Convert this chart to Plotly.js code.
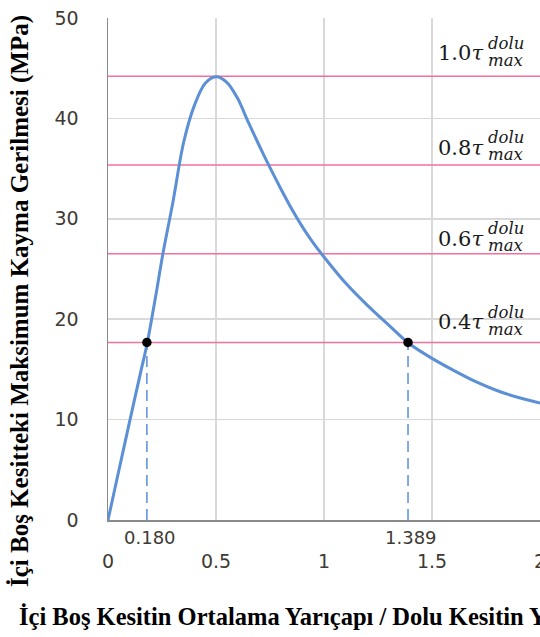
<!DOCTYPE html>
<html>
<head>
<meta charset="utf-8">
<script src="https://cdn.plot.ly/plotly-3.0.1.min.js"></script>
<style>
html,body{margin:0;padding:0;overflow:hidden;background:#fff;}
#chart{width:540px;height:637px;}
</style>
</head>
<body>
<div id="chart"></div>
<script>
// ---- data ----
const ratio = [0, 0.05, 0.1, 0.15, 0.182, 0.22, 0.254, 0.3, 0.35, 0.4, 0.45, 0.5, 0.55, 0.6, 0.65, 0.7, 0.75, 0.8, 0.85, 0.9, 0.95, 1.0, 1.1, 1.2, 1.3, 1.389, 1.5, 1.6, 1.7, 1.8, 1.9, 2.0];
const stress = [0, 4.9, 9.8, 14.6, 17.66, 22.2, 26.5, 31.6, 37.6, 41.3, 43.5, 44.15, 43.6, 42.0, 39.6, 37.3, 35.1, 33.0, 31.0, 29.2, 27.6, 26.2, 23.6, 21.4, 19.4, 17.66, 16.1, 14.9, 13.8, 12.9, 12.2, 11.66];
const tauMax = 44.2;
const levelFactors = [1.0, 0.8, 0.6, 0.4];
const levelLabels = ["1.0", "0.8", "0.6", "0.4"];
const markedX = [0.180, 1.389];
const markedLabels = ["0.180", "1.389"];
const xTicks = [0, 0.5, 1, 1.5, 2];
const xTickText = ["0", "0.5", "1", "1.5", "2"];
const yTicks = [0, 10, 20, 30, 40, 50];
const yTickText = ["0", "10", "20", "30", "40", "50"];

// ---- layout-only settings ----
const labelLift = [23, 17, 15, 20]; // px above each level line
const blue = "#5b8fd6";
const pink = "#f0709e";
const tickColor = "#3f3a33";

const traces = [];
levelFactors.forEach(f => {
  traces.push({x: [0, 2], y: [f * tauMax, f * tauMax], mode: "lines",
    line: {color: pink, width: 1.6}, hoverinfo: "skip", showlegend: false});
});
traces.push({x: ratio, y: stress, mode: "lines",
  line: {color: blue, width: 3, shape: "spline", smoothing: 0.9}, showlegend: false});
const dotY = levelFactors[3] * tauMax;
markedX.forEach(xv => {
  traces.push({x: [xv, xv], y: [0, dotY], mode: "lines",
    line: {color: blue, width: 1.5, dash: "11px,6px"}, showlegend: false});
});
traces.push({x: markedX, y: markedX.map(() => dotY), mode: "markers",
  marker: {color: "#000", size: 9.5}, cliponaxis: false, showlegend: false});

const annotations = [];
levelFactors.forEach((f, i) => {
  const yv = f * tauMax;
  annotations.push({xref: "x", yref: "y", x: 1.745, y: yv, xanchor: "right", yanchor: "middle",
    yshift: labelLift[i], showarrow: false, text: levelLabels[i] + "<i>τ</i>",
    font: {family: "DejaVu Serif", size: 21, color: "#1a1a1a"}});
  annotations.push({xref: "x", yref: "y", x: 1.752, y: yv, xanchor: "left", yanchor: "middle",
    yshift: labelLift[i] + 10, showarrow: false, text: "<i>dolu</i>",
    font: {family: "DejaVu Serif", size: 16.5, color: "#1a1a1a"}});
  annotations.push({xref: "x", yref: "y", x: 1.748, y: yv, xanchor: "left", yanchor: "middle",
    yshift: labelLift[i] - 7, showarrow: false, text: "<i>max</i>",
    font: {family: "DejaVu Serif", size: 16.5, color: "#1a1a1a"}});
});
markedX.forEach((xv, i) => {
  annotations.push({xref: "x", yref: "y", x: xv, y: 0, xanchor: "center", yanchor: "middle",
    yshift: -17, xshift: 3, showarrow: false, text: markedLabels[i],
    font: {family: "DejaVu Sans", size: 18, color: tickColor}});
});
annotations.push({xref: "paper", yref: "paper", x: -0.205, y: 0.437, xanchor: "center", yanchor: "middle",
  textangle: -90, showarrow: false, text: "<b>İçi Boş Kesitteki Maksimum Kayma Gerilmesi (MPa)</b>",
  font: {family: "Liberation Serif", size: 25, color: "#000"}});
annotations.push({xref: "paper", yref: "paper", x: -0.211, y: -0.193, xanchor: "left", yanchor: "middle",
  showarrow: false, text: "<b>İçi Boş Kesitin Ortalama Yarıçapı / Dolu Kesitin Yarıçapı</b>",
  font: {family: "Liberation Serif", size: 24.5, color: "#000"}});

const layout = {
  width: 540, height: 637,
  margin: {l: 108, r: 0, t: 18, b: 117},
  paper_bgcolor: "#fff", plot_bgcolor: "#fff",
  showlegend: false,
  xaxis: {range: [0, 2], tickvals: xTicks, ticktext: xTickText, showgrid: true,
    gridcolor: "#d9d9d9", gridwidth: 1.5, zeroline: false, showline: true, linecolor: "#8a8a8a",
    linewidth: 1.5, ticks: "", ticklabelstandoff: 24, ticklabeloverflow: "allow",
    tickfont: {family: "DejaVu Sans", size: 19, color: tickColor}},
  yaxis: {range: [0, 50], tickvals: yTicks, ticktext: yTickText, showgrid: true,
    gridcolor: "#d9d9d9", gridwidth: 1.5, zeroline: false, showline: true, linecolor: "#8a8a8a",
    linewidth: 1.5, ticks: "", ticklabelstandoff: 24,
    tickfont: {family: "DejaVu Sans", size: 19, color: tickColor}},
  annotations: annotations
};

Plotly.newPlot("chart", traces, layout, {staticPlot: true, displayModeBar: false});
</script>
</body>
</html>
